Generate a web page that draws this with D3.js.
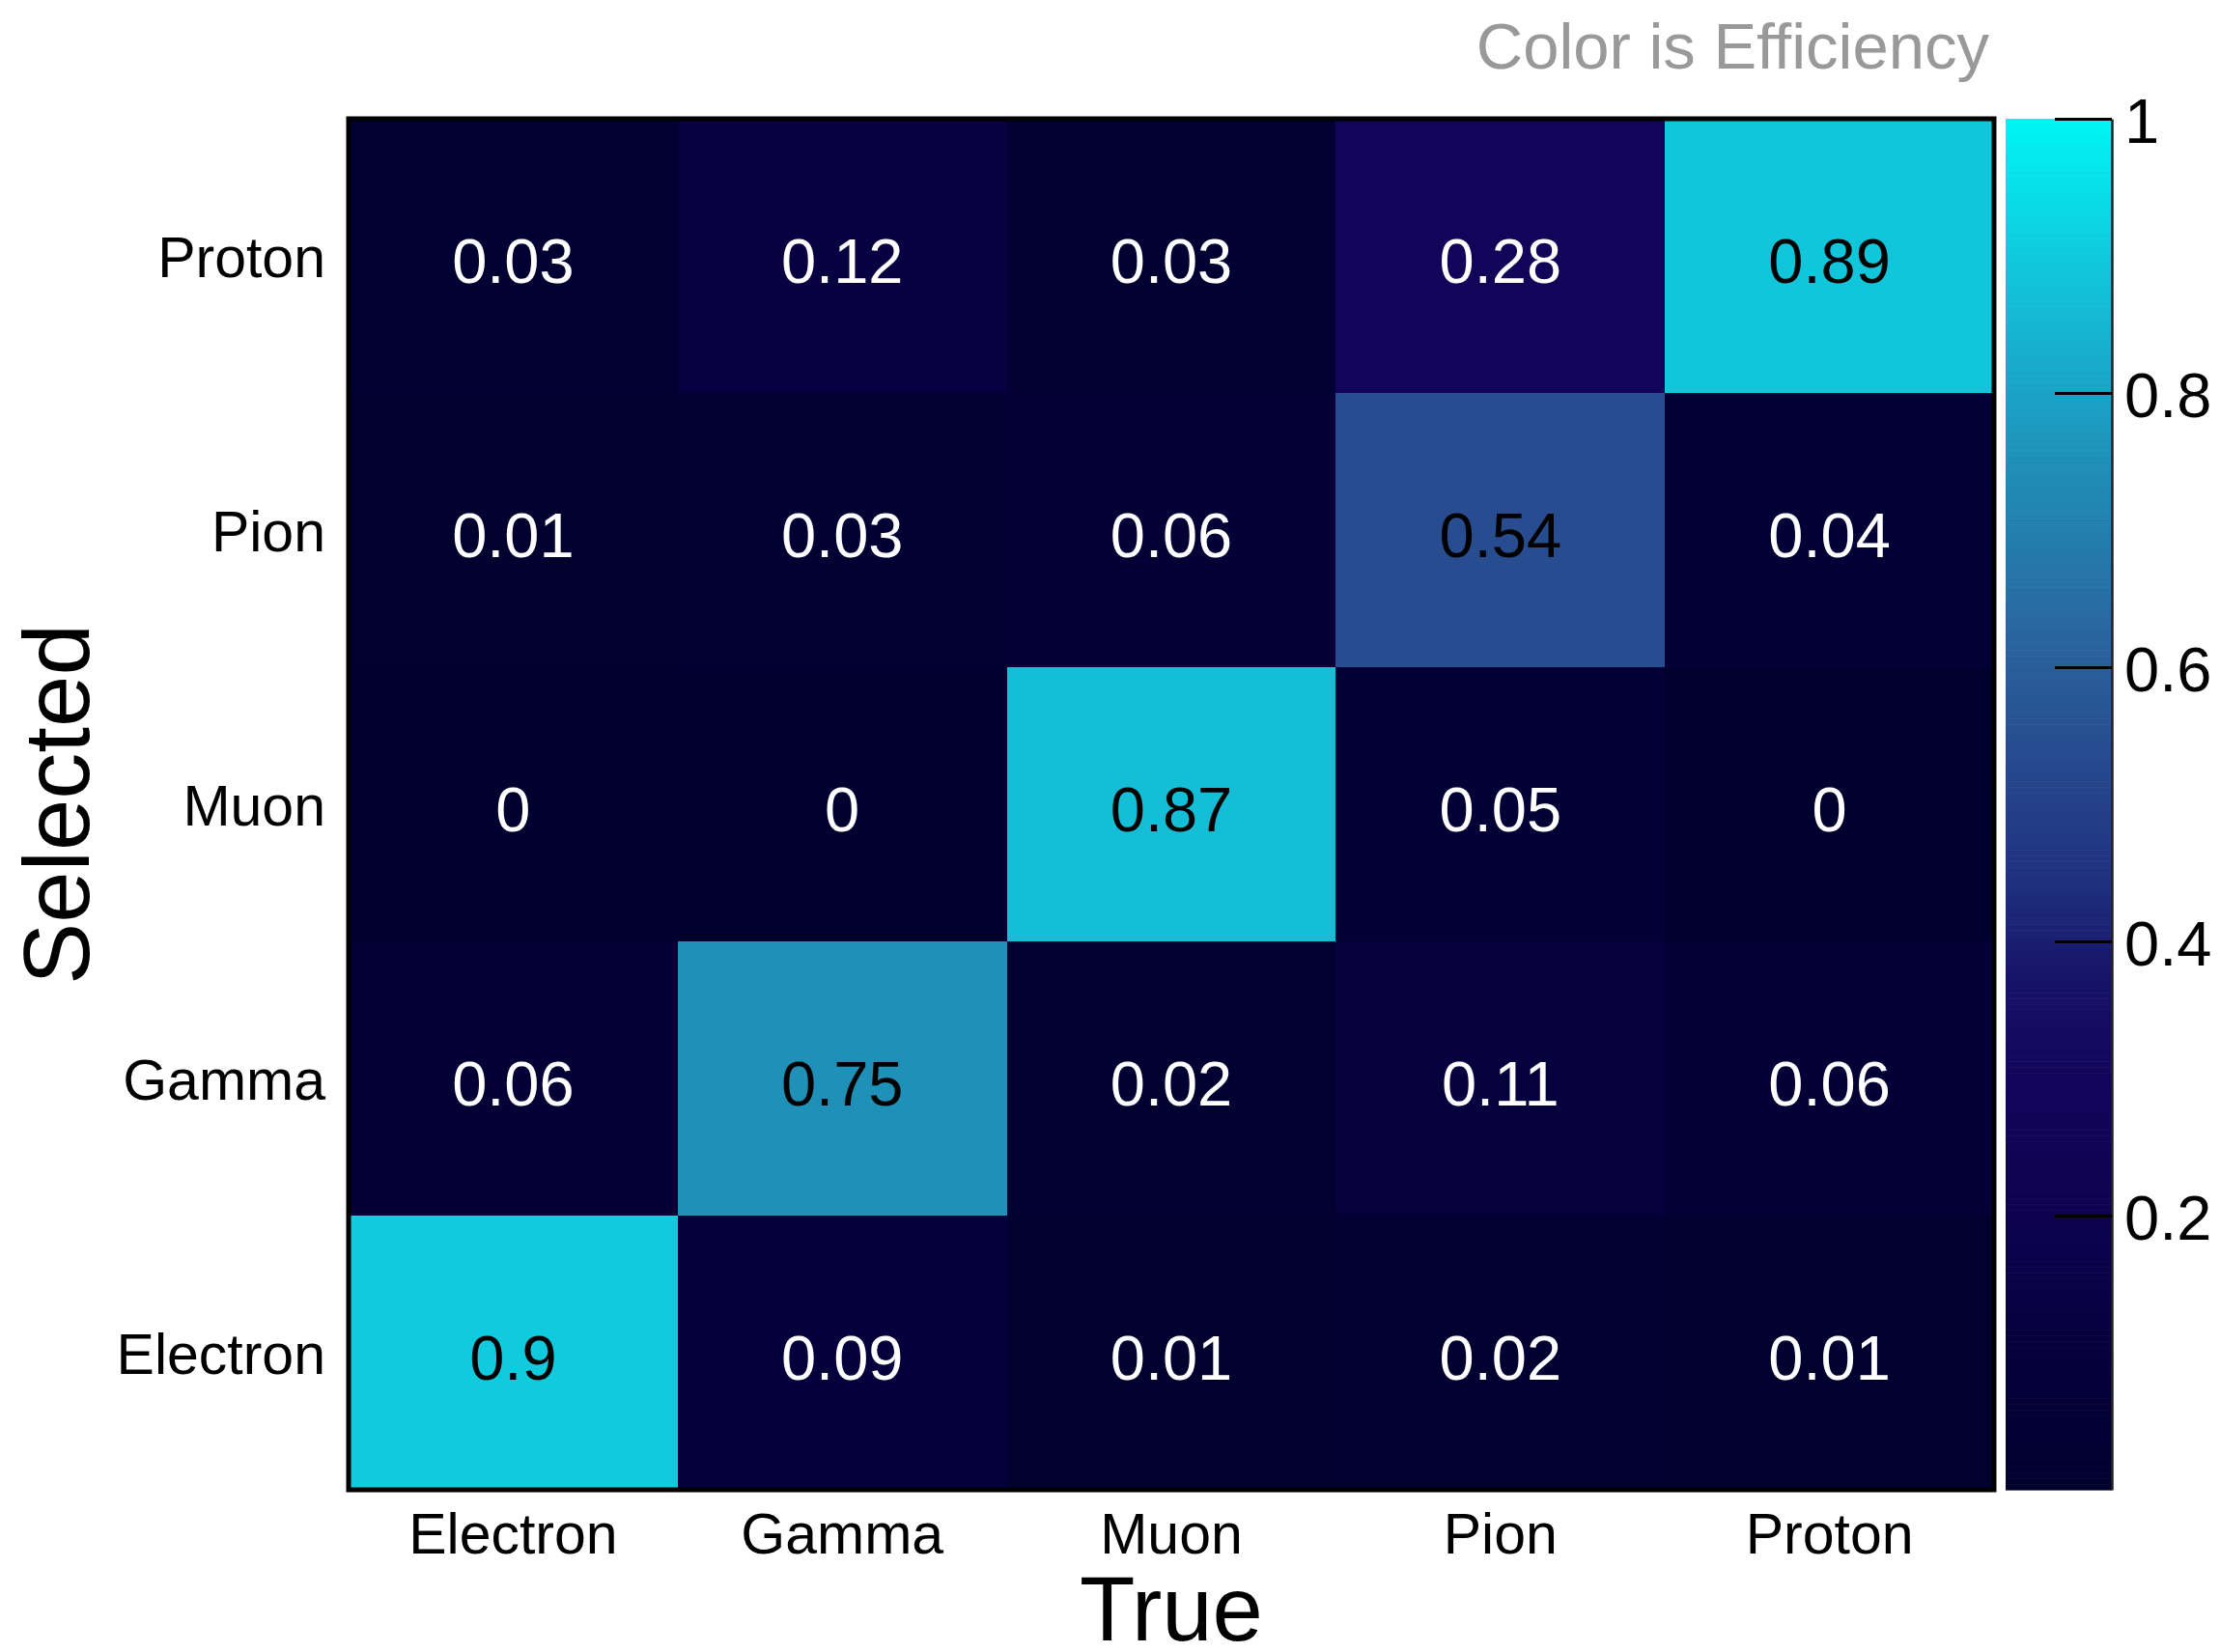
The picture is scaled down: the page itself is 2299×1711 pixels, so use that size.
<!DOCTYPE html>
<html>
<head>
<meta charset="utf-8">
<script src="https://cdn.jsdelivr.net/npm/d3@7"></script>
<style>
  html, body { margin: 0; padding: 0; background: #fff; }
  svg text { font-family: "Liberation Sans", Arial, Helvetica, sans-serif; }
</style>
</head>
<body>
<svg id="chart" width="2299" height="1711"></svg>
<script>
// Particle categories: true (columns) and selected (rows, bottom to top)
const trueCategories = ["Electron", "Gamma", "Muon", "Pion", "Proton"];
const selectedCategories = ["Electron", "Gamma", "Muon", "Pion", "Proton"];

// Efficiency per selected row, one value per true category
const selElectron = [0.9, 0.09, 0.01, 0.02, 0.01];
const selGamma    = [0.06, 0.75, 0.02, 0.11, 0.06];
const selMuon     = [0, 0, 0.87, 0.05, 0];
const selPion     = [0.01, 0.03, 0.06, 0.54, 0.04];
const selProton   = [0.03, 0.12, 0.03, 0.28, 0.89];
const efficiencyRows = [selElectron, selGamma, selMuon, selPion, selProton];

// Colour bar ticks
const colorTicks = [0.2, 0.4, 0.6, 0.8, 1];

// Palette: dark navy -> purple -> blue -> teal -> cyan
const paletteStops  = [0.0, 0.10, 0.20, 0.30, 0.37, 0.45, 0.54, 0.62, 0.75, 0.88, 1.0];
const paletteColors = ["#00002e", "#06003c", "#0e0250", "#13055a", "#161269", "#203280",
                       "#274c8f", "#2a649e", "#1f90b8", "#12c2d8", "#00f5f5"];

const svg = d3.select("#chart");
svg.append("rect").attr("width", 2299).attr("height", 1711).attr("fill", "#fff");

const plotLeft = 361, plotRight = 2065, plotTop = 123, plotBottom = 1543;

const x = d3.scaleBand().domain(trueCategories).range([plotLeft, plotRight]);
const y = d3.scaleBand().domain(selectedCategories).range([plotBottom, plotTop]);
const color = d3.scaleLinear().domain(paletteStops).range(paletteColors)
  .interpolate(d3.interpolateRgb).clamp(true);

// Flatten into cells
const cells = [];
selectedCategories.forEach((s, i) => {
  trueCategories.forEach((t, j) => {
    cells.push({ sel: s, tru: t, v: efficiencyRows[i][j] });
  });
});

const g = svg.append("g");
g.selectAll("rect.cell").data(cells).join("rect")
  .attr("class", "cell")
  .attr("x", d => x(d.tru))
  .attr("y", d => y(d.sel))
  .attr("width", x.bandwidth())
  .attr("height", y.bandwidth())
  .attr("fill", d => color(d.v))
  .attr("shape-rendering", "crispEdges");

g.selectAll("text.val").data(cells).join("text")
  .attr("class", "val")
  .attr("x", d => x(d.tru) + x.bandwidth() / 2)
  .attr("y", d => y(d.sel) + y.bandwidth() / 2 + 28)
  .attr("text-anchor", "middle")
  .attr("font-size", 65)
  .attr("fill", d => d.v > 0.5 ? "#000" : "#fff")
  .text(d => String(d.v));

// Frame
svg.append("rect")
  .attr("x", plotLeft).attr("y", plotTop)
  .attr("width", plotRight - plotLeft).attr("height", plotBottom - plotTop)
  .attr("fill", "none").attr("stroke", "#000").attr("stroke-width", 5);

// Category axes
const xAxis = svg.append("g")
  .attr("transform", `translate(0,${plotBottom})`)
  .call(d3.axisBottom(x).tickSize(0).tickPadding(24));
xAxis.select(".domain").remove();
xAxis.selectAll("text").attr("font-size", 59).attr("fill", "#000")
  .style("font-family", "'Liberation Sans', Arial, Helvetica, sans-serif");

const yAxis = svg.append("g")
  .attr("transform", `translate(${plotLeft},0)`)
  .call(d3.axisLeft(y).tickSize(0).tickPadding(24));
yAxis.select(".domain").remove();
yAxis.selectAll("text").attr("font-size", 59).attr("fill", "#000").attr("dy", "0.37em")
  .style("font-family", "'Liberation Sans', Arial, Helvetica, sans-serif");

// Axis titles
svg.append("text")
  .attr("x", (plotLeft + plotRight) / 2).attr("y", 1699)
  .attr("text-anchor", "middle").attr("font-size", 94).attr("fill", "#000")
  .text("True");

svg.append("text")
  .attr("transform", `translate(92,${(plotTop + plotBottom) / 2}) rotate(-90)`)
  .attr("text-anchor", "middle").attr("font-size", 96).attr("fill", "#000")
  .text("Selected");

// Colour bar
const barLeft = 2077, barRight = 2187;
const cy = d3.scaleLinear().domain([0, 1]).range([plotBottom, plotTop]);
const nSteps = 240;
const steps = d3.range(nSteps).map(i => i / nSteps);
svg.append("g").selectAll("rect").data(steps).join("rect")
  .attr("x", barLeft)
  .attr("width", barRight - barLeft)
  .attr("y", d => cy(d + 1 / nSteps))
  .attr("height", d => cy(d) - cy(d + 1 / nSteps) + 0.6)
  .attr("fill", d => color(d + 0.5 / nSteps));

const cAxis = svg.append("g")
  .attr("transform", `translate(${barRight},0)`)
  .call(d3.axisRight(cy).tickValues(colorTicks).tickFormat(d3.format("~g"))
    .tickSizeInner(-59).tickSizeOuter(0).tickPadding(13));
cAxis.select(".domain").attr("stroke", "#222").attr("stroke-width", 2.5);
cAxis.selectAll(".tick line").attr("stroke", "#000").attr("stroke-width", 3);
cAxis.selectAll("text").attr("font-size", 65).attr("fill", "#000").attr("dy", "0.37em")
  .style("font-family", "'Liberation Sans', Arial, Helvetica, sans-serif");

// Header
svg.append("text")
  .attr("x", 2060).attr("y", 71)
  .attr("text-anchor", "end").attr("font-size", 67).attr("fill", "#999")
  .text("Color is Efficiency");
</script>
</body>
</html>
